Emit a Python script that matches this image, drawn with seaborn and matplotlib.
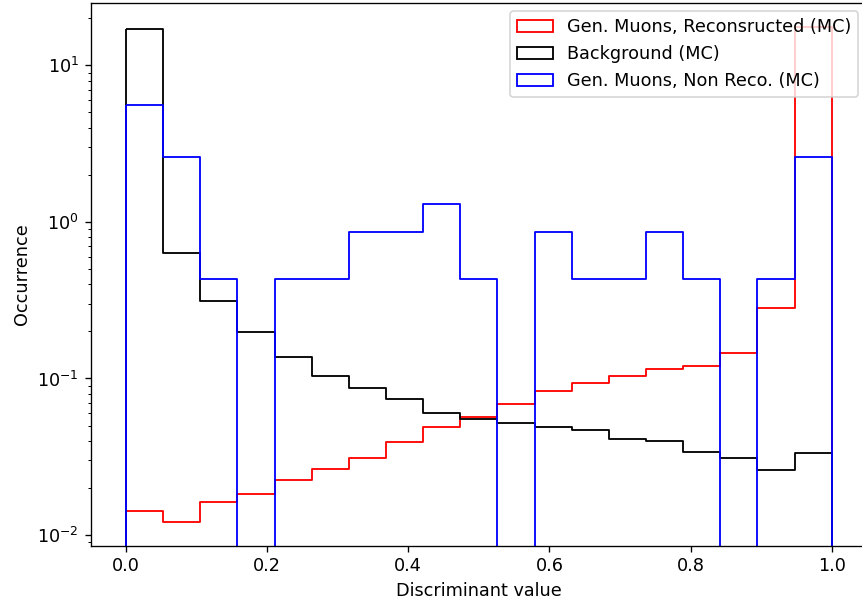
import numpy as np
import pandas as pd
import matplotlib
matplotlib.use("Agg")
import matplotlib.pyplot as plt
import seaborn as sns

plt.rcParams["font.size"] = 10.6

# Discriminant binning: 19 equal bins on [0, 1]
n_bins = 19
bin_range = (0.0, 1.0)
bin_edges = np.linspace(bin_range[0], bin_range[1], n_bins + 1)
bin_centers = 0.5 * (bin_edges[:-1] + bin_edges[1:])

# Normalised occurrence per bin (density)
reco_muons = [0.0143, 0.0122, 0.0163, 0.0184, 0.0225, 0.0266, 0.0310, 0.0394,
              0.0493, 0.0569, 0.0689, 0.0826, 0.0929, 0.1042, 0.1148, 0.1210,
              0.1452, 0.2830, 17.70]
background = [17.00, 0.634, 0.311, 0.197, 0.138, 0.103, 0.087, 0.074,
              0.060, 0.055, 0.052, 0.049, 0.047, 0.041, 0.040, 0.034,
              0.031, 0.026, 0.0334]
nonreco_muons = [5.61, 2.59, 0.432, 0.0, 0.432, 0.432, 0.864, 0.864,
                 1.295, 0.432, 0.0, 0.864, 0.432, 0.432, 0.864, 0.432,
                 0.0, 0.432, 2.59]

series = [
    ("Gen. Muons, Reconsructed (MC)", reco_muons, "red"),
    ("Background (MC)", background, "black"),
    ("Gen. Muons, Non Reco. (MC)", nonreco_muons, "blue"),
]

W, H, DPI = 862, 607, 120
fig = plt.figure(figsize=(W / DPI, H / DPI), dpi=DPI)
ax = fig.add_axes([90.7 / W, 61.3 / H, (867.0 - 90.7) / W, (545.7 - 2.5) / H])

for label, heights, color in series:
    df = pd.DataFrame({"value": bin_centers, "weight": heights})
    sns.histplot(data=df, x="value", weights="weight",
                 bins=n_bins, binrange=bin_range,
                 element="step", fill=True, color=color, facecolor="none",
                 edgecolor=color, linewidth=1.1, label=label, ax=ax)

ax.set_yscale("log")
ax.set_xlim(-0.05, 1.05)
ax.set_ylim(0.00855, 25.2)
ax.set_xlabel("Discriminant value")
ax.set_ylabel("Occurrence")
ax.legend(loc="upper right")

fig.savefig("out.png", dpi=DPI)
